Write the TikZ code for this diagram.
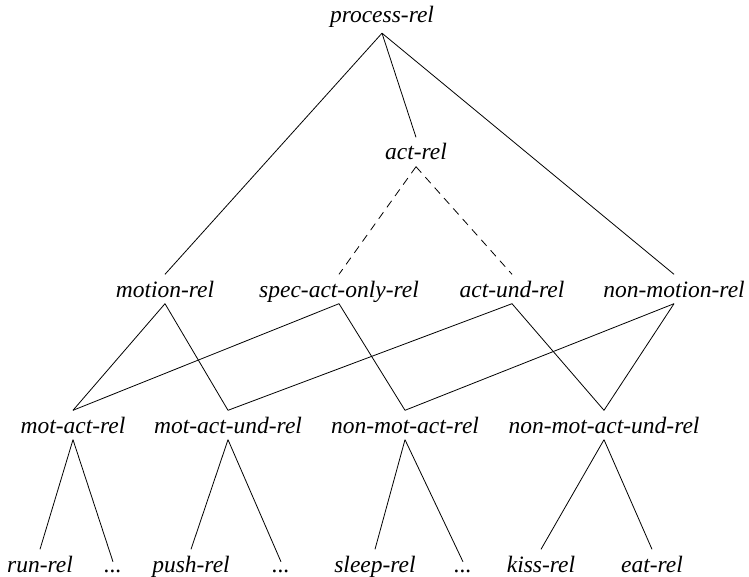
\documentclass[tikz,border=0pt]{standalone}
\usepackage{fontspec}
\setmainfont{Liberation Serif}
\begin{document}
\begin{tikzpicture}[x=1pt,y=-1pt,
  type/.style={font=\fontsize{23.5}{28}\selectfont\itshape, anchor=base,
    inner xsep=2pt, inner ysep=6.5pt, text height=16pt, text depth=0pt},
  more/.style={type, text height=3.5pt},
  link/.style={line width=0.8pt},
  hedge/.style={link, dash pattern=on 8pt off 6pt}]
\useasboundingbox (0,0) rectangle (749,577);

% top of the hierarchy
\node[type, text depth=3.5pt] (process) at (382,23) {process-rel};
\node[type] (act) at (416,160) {act-rel};

% second level
\node[type] (motion)    at (165,297) {motion-rel};
\node[type] (spec)      at (339,297) {spec-act-only-rel};
\node[type] (actund)    at (512,297) {act-und-rel};
\node[type] (nonmotion) at (674,297) {non-motion-rel};

% third level
\node[type] (motact)       at (73,433)  {mot-act-rel};
\node[type] (motactund)    at (228,433) {mot-act-und-rel};
\node[type] (nonmotact)    at (405,433) {non-mot-act-rel};
\node[type] (nonmotactund) at (604,433) {non-mot-act-und-rel};

% leaves
\node[type] (run)   at (40,572)  {run-rel};
\node[more] (dotsa) at (113,572) {...};
\node[type] (push)  at (191,572) {push-rel};
\node[more] (dotsb) at (281,572) {...};
\node[type] (sleep) at (375,572) {sleep-rel};
\node[more] (dotsc) at (463,572) {...};
\node[type] (kiss)  at (541,572) {kiss-rel};
\node[type] (eat)   at (652,572) {eat-rel};

% edges
\draw[link] (process.south) -- (motion.north);
\draw[link] (process.south) -- (act.north);
\draw[link] (process.south) -- (nonmotion.north);
\draw[hedge] (act.south) -- (spec.north);
\draw[hedge] (act.south) -- (actund.north);

\draw[link] (motion.south) -- (motact.north);
\draw[link] (motion.south) -- (motactund.north);
\draw[link] (spec.south) -- (motact.north);
\draw[link] (spec.south) -- (nonmotact.north);
\draw[link] (actund.south) -- (motactund.north);
\draw[link] (actund.south) -- (nonmotactund.north);
\draw[link] (nonmotion.south) -- (nonmotact.north);
\draw[link] (nonmotion.south) -- (nonmotactund.north);

\draw[link] (motact.south) -- (run.north);
\draw[link] (motact.south) -- (dotsa.north);
\draw[link] (motactund.south) -- (push.north);
\draw[link] (motactund.south) -- (dotsb.north);
\draw[link] (nonmotact.south) -- (sleep.north);
\draw[link] (nonmotact.south) -- (dotsc.north);
\draw[link] (nonmotactund.south) -- (kiss.north);
\draw[link] (nonmotactund.south) -- (eat.north);
\end{tikzpicture}
\end{document}
